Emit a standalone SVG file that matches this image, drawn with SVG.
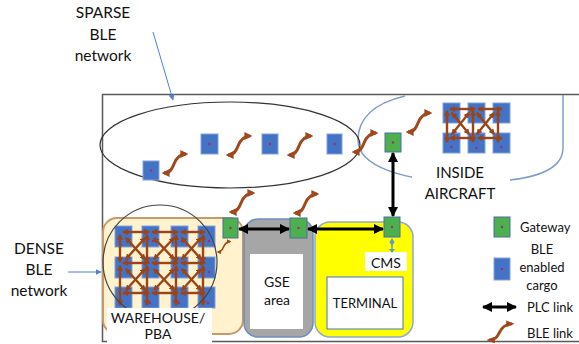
<svg xmlns="http://www.w3.org/2000/svg" width="579" height="344" viewBox="0 0 579 344">
  <defs>
    <style>
      .t{font-family:Lato,"Liberation Sans",sans-serif;fill:#111}
      .cargo{fill:#4472c4;stroke:#7ea2de;stroke-width:1}
      .gw{fill:#4cb04e;stroke:#4d6f9e;stroke-width:1}
      .dot{fill:#a0306e}
      .mesh{stroke:#9c4416;stroke-width:2.4;fill:none;marker-start:url(#mh);marker-end:url(#mh)}
      .ble{stroke:#a0481c;stroke-width:3;fill:none;marker-start:url(#bh);marker-end:url(#bh)}
      .plc{stroke:#000;stroke-width:3;fill:none;marker-start:url(#ph);marker-end:url(#ph)}
      .ptr{stroke:#4f7fd6;stroke-width:1;fill:none;marker-end:url(#pt)}
    </style>
    <marker id="mh" viewBox="0 0 10 10" refX="8" refY="5" markerWidth="6" markerHeight="6" markerUnits="userSpaceOnUse" orient="auto-start-reverse">
      <path d="M0,0 L10,5 L0,10 z" fill="#9c4416"/>
    </marker>
    <marker id="bh" viewBox="0 0 10 10" refX="7" refY="5" markerWidth="8" markerHeight="8" markerUnits="userSpaceOnUse" orient="auto-start-reverse">
      <path d="M0,0 L10,5 L0,10 z" fill="#a0481c"/>
    </marker>
    <marker id="ph" viewBox="0 0 10 10" refX="9" refY="5" markerWidth="10" markerHeight="10" markerUnits="userSpaceOnUse" orient="auto-start-reverse">
      <path d="M0,0 L10,5 L0,10 z" fill="#000"/>
    </marker>
    <marker id="pt" viewBox="0 0 10 10" refX="9" refY="5" markerWidth="6" markerHeight="6" markerUnits="userSpaceOnUse" orient="auto">
      <path d="M0,0 L10,5 L0,10 z" fill="#4f7fd6"/>
    </marker>
    <!-- BLE link squiggle, drawn from lower-left (0,0) to upper-right -->
    <path id="sq" d="M0,0 C6,0 8,-4 10,-9 S15,-19 22,-19"/>
  </defs>

  <rect width="579" height="344" fill="#fff"/>

  <!-- outer frame -->
  <rect x="102.5" y="94.5" width="490" height="247" fill="none" stroke="#595959" stroke-width="1.5"/>

  <!-- zones -->
  <g id="warehouse">
    <rect x="103" y="218" width="140" height="116" rx="14" fill="#fff2cc" stroke="#c8996a" stroke-width="2"/>
  </g>
  <g id="gse">
    <rect x="244" y="219" width="69" height="118" rx="14" fill="#a6a6a6" stroke="#6d8ebf" stroke-width="1.5"/>
    <rect x="250" y="254" width="53" height="75" fill="#fff"/>
    <text class="t" x="277" y="287" font-size="14" text-anchor="middle">GSE</text>
    <text class="t" x="277" y="305" font-size="14" text-anchor="middle">area</text>
  </g>
  <g id="terminal">
    <rect x="315" y="222" width="98" height="115" rx="15" fill="#ffff00" stroke="#8fa9d3" stroke-width="1.5"/>
    <rect x="327" y="277" width="76" height="52" fill="#fff" stroke="#4472c4" stroke-width="1"/>
    <text class="t" x="365" y="308" font-size="13" text-anchor="middle">TERMINAL</text>
  </g>
  <g id="cms">
    <rect x="365" y="252" width="42" height="19" fill="#fff"/>
    <text class="t" x="386" y="268" font-size="14" text-anchor="middle">CMS</text>
  </g>

  <!-- aircraft outline -->
  <g id="aircraft">
    <path d="M563,95 L563,148 C563,172 530,182 470,182 C400,182 358,165 358,140 C358,118 375,103 405,96" fill="none" stroke="#7f9ccb" stroke-width="1.5"/>
  </g>

  <!-- sparse network ellipse -->
  <g id="sparse-region">
    <ellipse cx="230" cy="145" rx="130" ry="43" fill="none" stroke="#333" stroke-width="1.2"/>
  </g>

  <!-- sparse cargo nodes -->
  <g id="cargo-s1"><rect class="cargo" x="143" y="161" width="16" height="19"/><circle class="dot" cx="151" cy="170.5" r="1.2"/></g>
  <g id="cargo-s2"><rect class="cargo" x="201" y="134" width="17" height="20"/><circle class="dot" cx="209.5" cy="144" r="1.2"/></g>
  <g id="cargo-s3"><rect class="cargo" x="262" y="134" width="16" height="20"/><circle class="dot" cx="270" cy="144" r="1.2"/></g>
  <g id="cargo-s4"><rect class="cargo" x="327" y="134" width="15" height="20"/><circle class="dot" cx="334.5" cy="144" r="1.2"/></g>

  <!-- gateways -->
  <g id="gw-aircraft"><rect class="gw" x="385" y="133" width="16" height="19"/><circle class="dot" cx="393" cy="142.5" r="1.2"/></g>
  <g id="gw-warehouse"><rect class="gw" x="223" y="218" width="15" height="20"/><circle class="dot" cx="230.5" cy="228" r="1.2"/></g>
  <g id="gw-gse"><rect class="gw" x="290" y="218" width="17" height="20"/><circle class="dot" cx="298.5" cy="228" r="1.2"/></g>
  <g id="gw-terminal"><rect class="gw" x="384" y="217" width="16" height="20"/><circle class="dot" cx="392" cy="227" r="1.2"/></g>

  <!-- warehouse cargo grid (3 rows x 4 columns) -->
  <g id="warehouse-cargo">
    <rect class="cargo" x="115" y="226" width="17" height="21"/><rect class="cargo" x="142" y="226" width="17" height="21"/><rect class="cargo" x="171" y="226" width="17" height="21"/><rect class="cargo" x="198" y="226" width="17" height="21"/>
    <rect class="cargo" x="115" y="257" width="17" height="21"/><rect class="cargo" x="142" y="257" width="17" height="21"/><rect class="cargo" x="171" y="257" width="17" height="21"/><rect class="cargo" x="198" y="257" width="17" height="21"/>
    <rect class="cargo" x="115" y="287" width="17" height="21"/><rect class="cargo" x="142" y="287" width="17" height="21"/><rect class="cargo" x="171" y="287" width="17" height="21"/><rect class="cargo" x="198" y="287" width="17" height="21"/>
    <circle class="dot" cx="153" cy="241" r="1.2"/><circle class="dot" cx="182" cy="241" r="1.2"/><circle class="dot" cx="209" cy="241" r="1.2"/>
    <circle class="dot" cx="209" cy="272" r="1.2"/><circle class="dot" cx="150" cy="303" r="1.2"/><circle class="dot" cx="179" cy="303" r="1.2"/><circle class="dot" cx="208" cy="303" r="1.2"/>
  </g>

  <!-- aircraft cargo grid (2 rows x 3 columns) -->
  <g id="aircraft-cargo">
    <rect class="cargo" x="443" y="103" width="17" height="20"/><rect class="cargo" x="468" y="103" width="17" height="20"/><rect class="cargo" x="493" y="103" width="17" height="20"/>
    <rect class="cargo" x="443" y="133" width="17" height="20"/><rect class="cargo" x="468" y="133" width="17" height="20"/><rect class="cargo" x="493" y="133" width="17" height="20"/>
    <circle class="dot" cx="451.5" cy="147" r="1.2"/><circle class="dot" cx="476.5" cy="148" r="1.2"/><circle class="dot" cx="501.5" cy="147" r="1.2"/>
  </g>

  <!-- connectors -->
  <g id="connectors">
    <!-- warehouse mesh: horizontal -->
    <path class="mesh" d="M123,232 L149,232"/><path class="mesh" d="M152,232 L178,232"/><path class="mesh" d="M181,232 L205,232"/>
    <path class="mesh" d="M123,263 L149,263"/><path class="mesh" d="M152,263 L178,263"/><path class="mesh" d="M181,263 L205,263"/>
    <path class="mesh" d="M123,293 L149,293"/><path class="mesh" d="M152,293 L178,293"/><path class="mesh" d="M181,293 L205,293"/>
    <!-- warehouse mesh: vertical -->
    <path class="mesh" d="M120,235 L120,262"/><path class="mesh" d="M147,235 L147,262"/><path class="mesh" d="M176,235 L176,262"/><path class="mesh" d="M203,235 L203,262"/>
    <path class="mesh" d="M120,266 L120,305"/><path class="mesh" d="M147,266 L147,305"/><path class="mesh" d="M176,266 L176,305"/><path class="mesh" d="M203,266 L203,305"/>
    <!-- warehouse mesh: diagonals -->
    <path class="mesh" d="M126,238 L145,259"/><path class="mesh" d="M145,238 L126,259"/>
    <path class="mesh" d="M154,238 L174,259"/><path class="mesh" d="M174,238 L154,259"/>
    <path class="mesh" d="M182,238 L201,259"/><path class="mesh" d="M201,238 L182,259"/>
    <path class="mesh" d="M126,269 L145,290"/><path class="mesh" d="M145,269 L126,290"/>
    <path class="mesh" d="M154,269 L174,290"/><path class="mesh" d="M174,269 L154,290"/>
    <path class="mesh" d="M182,269 L201,290"/><path class="mesh" d="M201,269 L182,290"/>

    <!-- aircraft mesh -->
    <path class="mesh" d="M450,109 L475,109"/><path class="mesh" d="M478,109 L502,109"/>
    <path class="mesh" d="M450,138 L475,138"/><path class="mesh" d="M478,138 L502,138"/>
    <path class="mesh" d="M447,111 L447,142"/><path class="mesh" d="M473,111 L473,142"/><path class="mesh" d="M498,111 L498,142"/>
    <path class="mesh" d="M452,113 L469,134"/><path class="mesh" d="M469,113 L452,134"/>
    <path class="mesh" d="M477,113 L494,134"/><path class="mesh" d="M494,113 L477,134"/>

    <!-- BLE links -->
    <use href="#sq" class="ble" transform="translate(164,173)"/>
    <use href="#sq" class="ble" transform="translate(228,155)"/>
    <use href="#sq" class="ble" transform="translate(289,155)"/>
    <use href="#sq" class="ble" transform="translate(354,152)"/>
    <use href="#sq" class="ble" transform="translate(408,132)"/>
    <use href="#sq" class="ble" transform="translate(231,212)"/>
    <use href="#sq" class="ble" transform="translate(295,213)"/>
    <use href="#sq" class="ble" transform="translate(218,252) scale(0.55)"/>

    <!-- PLC links -->
    <path class="plc" d="M239,229 L289,229"/>
    <path class="plc" d="M308,229 L383,229"/>
    <path class="plc" d="M393,153 L393,216"/>

    <!-- gateway to CMS -->
    <path d="M392,238 L394.5,242 L392,246 L389.5,242 z" fill="#5b9bd5"/>
    <path d="M392,245 L392,251" stroke="#5b9bd5" stroke-width="1.5"/>
    <path d="M389,249 L392,253 L395,249 z" fill="#5b9bd5"/>
  </g>

  <!-- dense network circle -->
  <g id="dense-region">
    <circle cx="160" cy="262" r="57" fill="none" stroke="#444" stroke-width="1.2"/>
  </g>

  <!-- labels with white backing -->
  <g id="label-aircraft">
    <rect x="412" y="164" width="98" height="40" fill="#fff"/>
    <text class="t" x="460" y="178" font-size="15" text-anchor="middle">INSIDE</text>
    <text class="t" x="460" y="199" font-size="15" text-anchor="middle">AIRCRAFT</text>
  </g>
  <g id="label-warehouse">
    <rect x="107" y="308" width="105" height="36" fill="#fff"/>
    <text class="t" x="158" y="323" font-size="14" text-anchor="middle">WAREHOUSE/</text>
    <text class="t" x="158" y="339" font-size="14" text-anchor="middle">PBA</text>
  </g>

  <g id="label-sparse">
    <text class="t" x="103" y="18" font-size="15.5" text-anchor="middle">SPARSE</text>
    <text class="t" x="103" y="40" font-size="15.5" text-anchor="middle">BLE</text>
    <text class="t" x="103" y="61" font-size="15.5" text-anchor="middle">network</text>
    <path class="ptr" d="M153,32 L173,100"/>
  </g>
  <g id="label-dense">
    <text class="t" x="39" y="254" font-size="15.5" text-anchor="middle">DENSE</text>
    <text class="t" x="39" y="275" font-size="15.5" text-anchor="middle">BLE</text>
    <text class="t" x="39" y="296" font-size="15.5" text-anchor="middle">network</text>
    <path class="ptr" d="M68,272 L101,272"/>
  </g>

  <!-- legend -->
  <g id="legend">
    <rect class="gw" x="494" y="217" width="16" height="20"/><circle class="dot" cx="502" cy="227" r="1.2"/>
    <text class="t" x="520" y="232" font-size="13">Gateway</text>
    <rect class="cargo" x="494" y="258" width="16" height="22"/><circle class="dot" cx="502" cy="269" r="1.2"/>
    <text class="t" x="542" y="254" font-size="13" text-anchor="middle">BLE</text>
    <text class="t" x="542" y="272" font-size="13" text-anchor="middle">enabled</text>
    <text class="t" x="542" y="290" font-size="13" text-anchor="middle">cargo</text>
    <path class="plc" d="M483,307 L516,307"/>
    <text class="t" x="527" y="312" font-size="13">PLC link</text>
    <use href="#sq" class="ble" transform="translate(489,340) scale(1.05,0.85)"/>
    <text class="t" x="527" y="338" font-size="13">BLE link</text>
  </g>
</svg>
